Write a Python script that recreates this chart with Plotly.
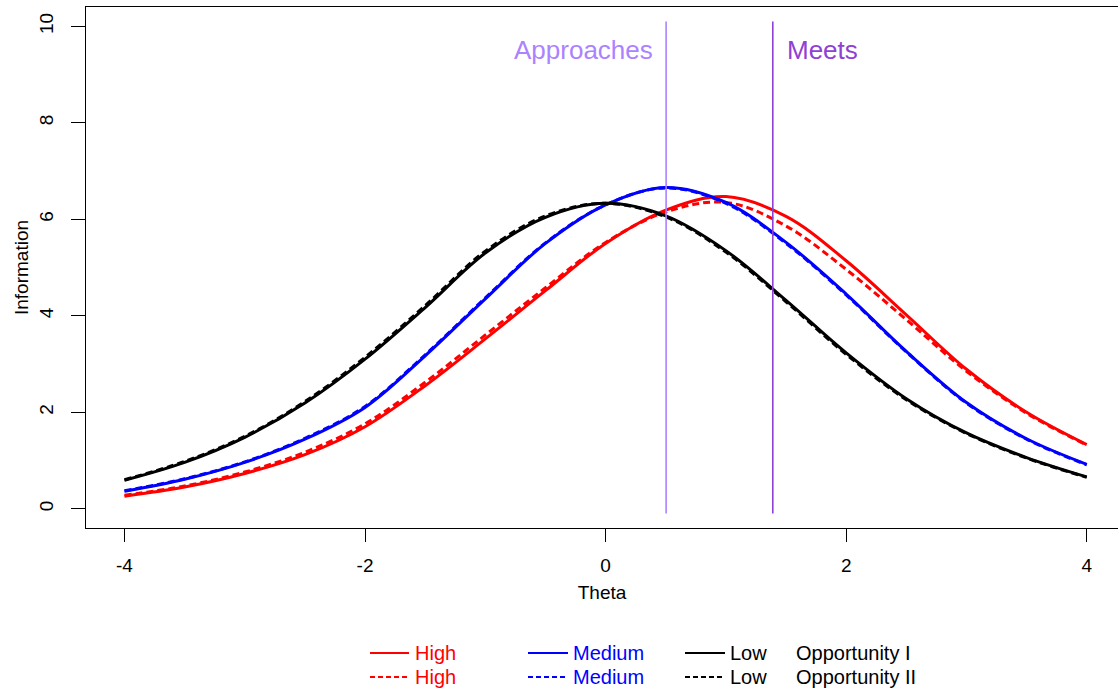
import plotly.graph_objects as go

# ---------------- data ----------------
theta = [-4.0, -3.5, -3.0, -2.5, -2.0, -1.5, -1.0, -0.5, 0.0, 0.5, 1.0, 1.5, 2.0, 2.5, 3.0, 3.5, 4.0]

high_I = [0.26, 0.45, 0.73, 1.12, 1.70, 2.55, 3.52, 4.52, 5.50, 6.19, 6.47, 6.06, 5.14, 4.02, 2.89, 2.00, 1.33]
high_II = [0.28, 0.47, 0.76, 1.17, 1.76, 2.62, 3.60, 4.58, 5.52, 6.15, 6.35, 5.86, 4.96, 3.92, 2.85, 1.98, 1.32]
medium_I = [0.36, 0.61, 0.96, 1.44, 2.10, 3.17, 4.35, 5.50, 6.30, 6.66, 6.35, 5.52, 4.45, 3.26, 2.20, 1.45, 0.92]
medium_II = [0.37, 0.62, 0.97, 1.46, 2.12, 3.19, 4.37, 5.51, 6.30, 6.65, 6.33, 5.50, 4.43, 3.25, 2.19, 1.44, 0.91]
low_I = [0.59, 0.96, 1.48, 2.19, 3.10, 4.17, 5.30, 6.04, 6.33, 6.07, 5.35, 4.32, 3.23, 2.28, 1.57, 1.06, 0.66]
low_II = [0.60, 0.98, 1.50, 2.22, 3.14, 4.21, 5.34, 6.07, 6.33, 6.05, 5.32, 4.29, 3.20, 2.26, 1.56, 1.05, 0.65]

cut_names = ["Approaches", "Meets"]
cut_values = [0.503, 1.390]
cut_span = [-0.1, 10.1]
cut_label_y = 9.5

x_ticks = [-4, -2, 0, 2, 4]
x_tick_labels = ["-4", "-2", "0", "2", "4"]
y_ticks = [0, 2, 4, 6, 8, 10]
y_tick_labels = ["0", "2", "4", "6", "8", "10"]

group_names = ["High", "Medium", "Low"]
opportunity_names = ["Opportunity I", "Opportunity II"]

# ---------------- styling ----------------
RED, BLUE, BLACK = "#FF0000", "#0000FF", "#000000"
APPROACH_COL, MEETS_COL = "#AB82FF", "#9040D4"
FONT = "Liberation Sans, Arial, sans-serif"
DASH = "7px,4px"

W, H = 1118, 692
L, R, T, B = 86, 0, 7, 164
PW, PH = W - L - R, H - T - B


def px2paper(px, py):
    return (px - L) / PW, (H - B - py) / PH


fig = go.Figure()

series = [
    (high_I, RED, "solid"), (high_II, RED, DASH),
    (medium_I, BLUE, "solid"), (medium_II, BLUE, DASH),
    (low_I, BLACK, "solid"), (low_II, BLACK, DASH),
]
for vals, col, dash in series:
    fig.add_trace(go.Scatter(
        x=theta, y=vals, mode="lines",
        line=dict(color=col, width=3, dash=dash, shape="spline", smoothing=1.0),
        showlegend=False, hoverinfo="skip",
    ))

# cut-score lines
for name, xv, col, side in zip(cut_names, cut_values, [APPROACH_COL, MEETS_COL], ["right", "left"]):
    fig.add_trace(go.Scatter(
        x=[xv, xv], y=cut_span, mode="lines",
        line=dict(color=col, width=1.6), showlegend=False, hoverinfo="skip",
    ))
    fig.add_annotation(
        x=xv, y=cut_label_y, xref="x", yref="y", text=name, showarrow=False,
        xanchor=side, yanchor="middle", xshift=-11 if side == "right" else 12,
        font=dict(family=FONT, size=26, color=col),
    )

# ---------------- legend drawn below the plot ----------------
legend_cols = [(370, 409, 415, RED), (528, 568, 573, BLUE), (685, 725, 730, BLACK)]
rows = [(653, "solid"), (677, "dash")]
for r_i, (py, dash) in enumerate(rows):
    for name, (x0, x1, tx, col) in zip(group_names, legend_cols):
        p0 = px2paper(x0, py)
        p1 = px2paper(x1, py)
        fig.add_shape(
            type="line", xref="paper", yref="paper",
            x0=p0[0], y0=p0[1], x1=p1[0], y1=p1[1],
            line=dict(color=col, width=2, dash="solid" if dash == "solid" else "5px,3px"),
        )
        pt = px2paper(tx, py)
        fig.add_annotation(
            x=pt[0], y=pt[1], xref="paper", yref="paper", text=name, showarrow=False,
            xanchor="left", yanchor="middle", xshift=-2,
            font=dict(family=FONT, size=20, color=col),
        )
    pt = px2paper(796, py)
    fig.add_annotation(
        x=pt[0], y=pt[1], xref="paper", yref="paper", text=opportunity_names[r_i],
        showarrow=False, xanchor="left", yanchor="middle", xshift=-2,
        font=dict(family=FONT, size=20, color=BLACK),
    )

fig.update_layout(
    width=W, height=H,
    margin=dict(l=L, r=R, t=T, b=B, autoexpand=False),
    plot_bgcolor="white", paper_bgcolor="white",
    font=dict(family=FONT, size=19, color="black"),
    xaxis=dict(
        range=[-4.32, 4.26], tickvals=x_ticks, ticktext=x_tick_labels,
        ticks="outside", ticklen=13, tickwidth=1.3,
        tickcolor="black", showline=True, linecolor="black", linewidth=1.3, mirror=True,
        showgrid=False, zeroline=False, ticklabelstandoff=7,
        title=dict(text="Theta", standoff=10, font=dict(size=19)),
        tickfont=dict(size=19),
    ),
    yaxis=dict(
        range=[-0.4, 10.4], tickvals=y_ticks, ticktext=y_tick_labels,
        ticks="outside", ticklen=14, tickwidth=1.3,
        tickcolor="black", showline=True, linecolor="black", linewidth=1.3, mirror=False,
        showgrid=False, zeroline=False, tickangle=-90, ticklabelstandoff=10,
        title=dict(text="Information", standoff=2, font=dict(size=19)),
        tickfont=dict(size=19),
    ),
)

fig.write_html(
    "out.html",
    config={"displayModeBar": False},
    post_script="document.body.style.margin='0';document.body.style.overflow='hidden';",
)
